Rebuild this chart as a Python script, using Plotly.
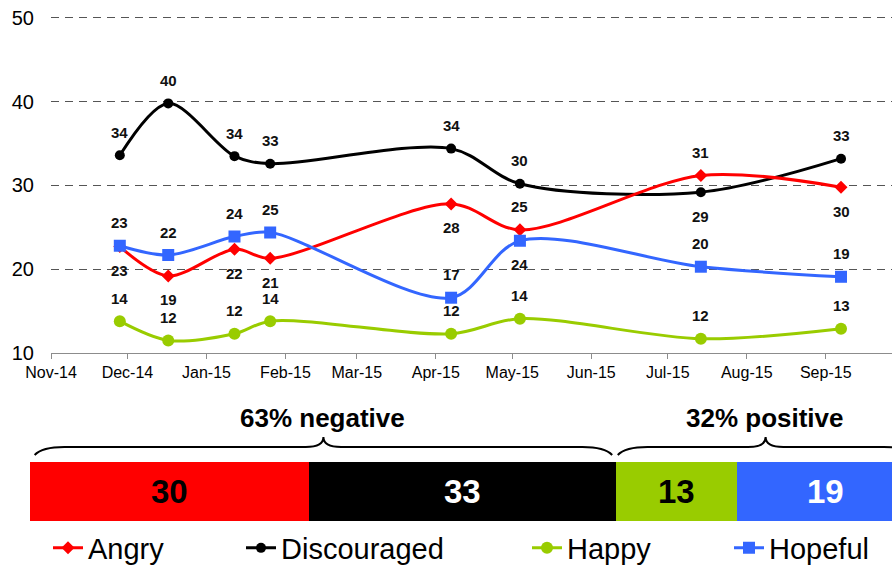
import plotly.graph_objects as go

# ---------------- data ----------------
dates = ["2014-11-28", "2014-12-17", "2015-01-12", "2015-01-26",
         "2015-04-07", "2015-05-04", "2015-07-14", "2015-09-07"]
angry = [22.7, 19.2, 22.4, 21.3, 27.8, 24.7, 31.2, 29.8]
discouraged = [33.6, 39.8, 33.5, 32.6, 34.4, 30.2, 29.2, 33.2]
happy = [13.8, 11.5, 12.3, 13.8, 12.3, 14.1, 11.7, 12.9]
hopeful = [22.8, 21.7, 23.9, 24.4, 16.6, 23.4, 20.3, 19.1]

angry_labels = [23, 19, 22, 21, 28, 25, 31, 30]
discouraged_labels = [34, 40, 34, 33, 34, 30, 29, 33]
happy_labels = [14, 12, 12, 14, 12, 14, 12, 13]
hopeful_labels = [23, 22, 24, 25, 17, 24, 20, 19]

bar_names = ["Angry", "Discouraged", "Happy", "Hopeful"]
bar_values = [30, 33, 13, 19]

y_ticks = [10, 20, 30, 40, 50]
x_tick_dates = ["2014-11-01", "2014-12-01", "2015-01-01", "2015-02-01", "2015-03-01",
                "2015-04-01", "2015-05-01", "2015-06-01", "2015-07-01", "2015-08-01",
                "2015-09-01"]
x_tick_labels = ["Nov-14", "Dec-14", "Jan-15", "Feb-15", "Mar-15", "Apr-15",
                 "May-15", "Jun-15", "Jul-15", "Aug-15", "Sep-15"]

# ---------------- styles ----------------
FONT = "Liberation Sans, Arial, sans-serif"
W, H = 892, 567
colors = {"Angry": "#FF0000", "Discouraged": "#000000", "Happy": "#99CC00", "Hopeful": "#3366FF"}
symbols = {"Angry": "diamond", "Discouraged": "circle", "Happy": "circle", "Hopeful": "square"}
msize = {"Angry": 10, "Discouraged": 10, "Happy": 12, "Hopeful": 12}
# +1 above the point, -1 below
label_side = {
    "Angry": [-1, -1, -1, -1, -1, 1, 1, -1],
    "Discouraged": [1, 1, 1, 1, 1, 1, -1, 1],
    "Happy": [1, 1, 1, 1, 1, 1, 1, 1],
    "Hopeful": [1, 1, 1, 1, 1, -1, 1, 1],
}
legend_x = {"Angry": 48, "Discouraged": 241, "Happy": 527, "Hopeful": 729}
legend_key = {"Angry": "legend", "Discouraged": "legend2", "Happy": "legend3", "Hopeful": "legend4"}

series = {
    "Angry": (angry, angry_labels),
    "Discouraged": (discouraged, discouraged_labels),
    "Happy": (happy, happy_labels),
    "Hopeful": (hopeful, hopeful_labels),
}

def py(px):
    return 1 - px / H

fig = go.Figure()

annotations = []
for name in ["Discouraged", "Angry", "Happy", "Hopeful"]:
    vals, labs = series[name]
    fig.add_trace(go.Scatter(
        x=dates, y=vals, name=name, mode="lines+markers",
        line=dict(color=colors[name], width=3, shape="spline", smoothing=0.9),
        marker=dict(symbol=symbols[name], size=msize[name], color=colors[name]),
        legend=legend_key[name], xaxis="x", yaxis="y",
    ))
    for d, v, lab, side in zip(dates, vals, labs, label_side[name]):
        annotations.append(dict(
            x=d, y=v, xref="x", yref="y", text=str(lab), showarrow=False,
            yshift=23 if side > 0 else -24,
            font=dict(family=FONT, size=15, color="#111111", weight="bold"),
        ))

# stacked bar
bar_text_colors = ["#000000", "#FFFFFF", "#000000", "#FFFFFF"]
cum = 0
for name, v, tc in zip(bar_names, bar_values, bar_text_colors):
    fig.add_trace(go.Bar(
        x=[v], y=["latest"], orientation="h", marker=dict(color=colors[name], line=dict(width=0)),
        width=1, showlegend=False, xaxis="x2", yaxis="y2", hoverinfo="skip",
    ))
    annotations.append(dict(
        x=cum + v / 2, y="latest", xref="x2", yref="y2", text=str(v), showarrow=False,
        font=dict(family=FONT, size=33, color=tc, weight="bold"),
    ))
    cum += v

neg = bar_values[0] + bar_values[1]
pos = bar_values[2] + bar_values[3]
total = neg + pos

annotations.append(dict(x=neg / 2, y=py(418), xref="x2", yref="paper", yanchor="middle",
                        text=f"{neg}% negative", showarrow=False,
                        font=dict(family=FONT, size=26, color="#000000", weight="bold")))
annotations.append(dict(x=neg + pos / 2, y=py(418), xref="x2", yref="paper", yanchor="middle",
                        text=f"{pos}% positive", showarrow=False,
                        font=dict(family=FONT, size=26, color="#000000", weight="bold")))

def brace(x0, x1, de=3.2, dc=1.9):
    ye, ym, yt = py(455), py(447), py(437)
    xc = (x0 + x1) / 2
    return (f"M {x0},{ye} Q {x0 + 0.25 * de},{ym} {x0 + de},{ym} L {xc - dc},{ym} "
            f"Q {xc},{ym} {xc},{yt} Q {xc},{ym} {xc + dc},{ym} "
            f"L {x1 - de},{ym} Q {x1 - 0.25 * de},{ym} {x1},{ye}")

shapes = [
    dict(type="path", xref="x2", yref="paper", path=brace(0.5, neg - 0.4),
         line=dict(color="#000000", width=2)),
    dict(type="path", xref="x2", yref="paper", path=brace(neg + 0.2, total),
         line=dict(color="#000000", width=2)),
]

legend_common = dict(orientation="h", yanchor="middle", y=py(548), xanchor="left",
                     xref="container", yref="container",
                     bgcolor="rgba(0,0,0,0)", font=dict(family=FONT, size=29, color="#000000"))
layout_legends = {}
for name in bar_names:
    layout_legends[legend_key[name]] = dict(legend_common, x=legend_x[name] / W)

fig.update_layout(
    width=W, height=H,
    margin=dict(l=0, r=0, t=0, b=0, autoexpand=False),
    paper_bgcolor="white", plot_bgcolor="white",
    font=dict(family=FONT, color="#000000"),
    barmode="stack",
    showlegend=True,
    xaxis=dict(
        type="date", domain=[51 / W, 1], range=["2014-11-01", "2015-09-27"],
        tickvals=x_tick_dates, ticktext=x_tick_labels,
        showgrid=False, showline=True, linecolor="#8c8c8c", linewidth=1,
        ticks="outside", ticklen=5, tickcolor="#8c8c8c",
        tickfont=dict(family=FONT, size=16, color="#000000"),
        zeroline=False, anchor="y",
    ),
    yaxis=dict(
        domain=[py(353), py(14.6)], range=[10, 50.4], tickvals=y_ticks,
        showgrid=True, gridcolor="#555555", griddash="8px,6px", gridwidth=1,
        showline=False, zeroline=False, ticks="", ticklabelstandoff=16,
        tickfont=dict(family=FONT, size=20, color="#000000"), anchor="x",
    ),
    xaxis2=dict(domain=[30 / W, 1], range=[0, 862 / 9.3], visible=False, anchor="y2"),
    yaxis2=dict(domain=[py(521), py(462)], range=[-0.5, 0.5], visible=False, anchor="x2",
                type="category"),
    annotations=annotations,
    shapes=shapes,
    **layout_legends,
)

fig.write_html("out.html", config={"displayModeBar": False},
               post_script="document.body.style.margin='0';document.body.style.overflow='hidden';")
